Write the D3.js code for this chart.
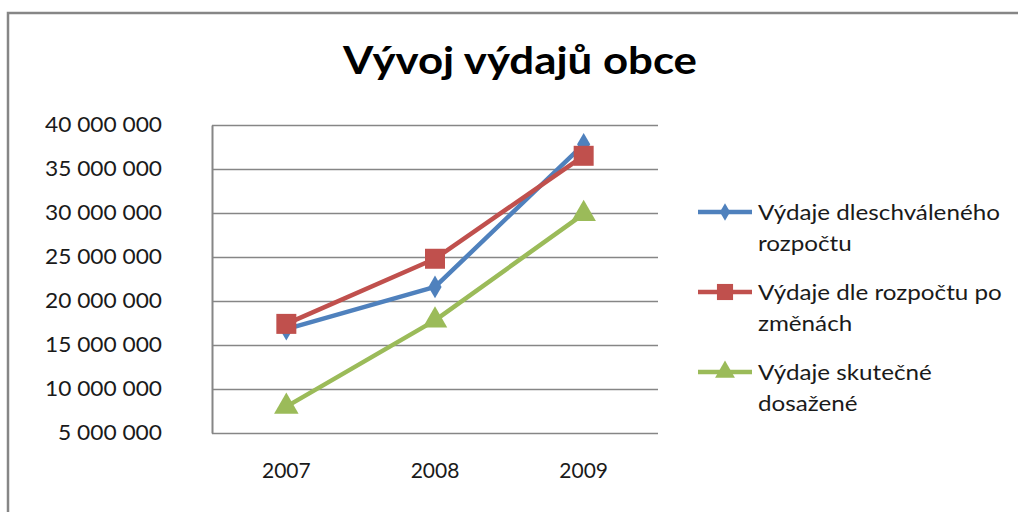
<!DOCTYPE html>
<html>
<head>
<meta charset="utf-8">
<script src="https://cdn.jsdelivr.net/npm/d3@7"></script>
<style>
  html, body { margin: 0; padding: 0; background: #fff; }
  svg { display: block; }
  text { font-family: Lato, "Open Sans", sans-serif; fill: #1a1a1a; }
</style>
</head>
<body>
<svg id="chart" width="1018" height="512"></svg>
<script>
const title = "Vývoj výdajů obce";
const categories = ["2007", "2008", "2009"];
const seriesNames = ["Výdaje dleschváleného rozpočtu", "Výdaje dle rozpočtu po změnách", "Výdaje skutečné dosažené"];
const legendLines = [["Výdaje dleschváleného", "rozpočtu"], ["Výdaje dle rozpočtu po", "změnách"], ["Výdaje skutečné", "dosažené"]];
const schvaleny = [16800000, 21600000, 37800000];
const poZmenach = [17400000, 24800000, 36500000];
const skutecne = [8000000, 17800000, 29900000];
const yTicks = [5000000, 10000000, 15000000, 20000000, 25000000, 30000000, 35000000, 40000000];

const colors = ["#4F81BD", "#C0504D", "#9BBB59"];
const symbols = [d3.symbolDiamond, d3.symbolSquare, d3.symbolTriangle];
const symbolSizes = [150, 400, 260];
const legendSymbolSizes = [90, 260, 170];
const seriesValues = [schvaleny, poZmenach, skutecne];

const svg = d3.select("#chart");

// outer frame (top and left edges visible)
svg.append("path")
  .attr("d", "M8,512 L8,13 L1018,13")
  .attr("fill", "none").attr("stroke", "#868686").attr("stroke-width", 2.5);

// title
svg.append("text")
  .attr("x", 520).attr("y", 74)
  .attr("text-anchor", "middle")
  .attr("font-size", 38).attr("font-weight", "bold")
  .style("fill", "#000")
  .attr("textLength", 354).attr("lengthAdjust", "spacingAndGlyphs")
  .text(title);

const plot = { left: 212, right: 658, top: 125, bottom: 433 };

const x = d3.scaleBand().domain(categories).range([plot.left, plot.right]);
const y = d3.scaleLinear().domain([5000000, 40000000]).range([plot.bottom, plot.top]);

const fmt = v => d3.format(",")(v).replace(/,/g, " ");

// gridlines
svg.append("g")
  .attr("transform", `translate(${plot.left},0)`)
  .call(d3.axisLeft(y).tickValues(yTicks).tickSize(-(plot.right - plot.left)).tickFormat(""))
  .call(g => g.select(".domain").remove())
  .call(g => g.selectAll("line").attr("stroke", "#868686").attr("stroke-width", 1.5));

// y axis labels
const yAxis = svg.append("g")
  .attr("transform", `translate(${plot.left},0)`)
  .call(d3.axisLeft(y).tickValues(yTicks).tickSize(0).tickPadding(50).tickFormat(fmt));
yAxis.select(".domain").attr("stroke", "#868686").attr("stroke-width", 2);
yAxis.selectAll("text").attr("font-size", 21).attr("font-family", "Lato").style("fill", "#1a1a1a")
  .attr("textLength", 117).attr("lengthAdjust", "spacingAndGlyphs");
yAxis.selectAll("text").filter(d => d < 10000000).attr("textLength", 104);

// x axis labels
const xAxis = svg.append("g")
  .attr("transform", `translate(0,${plot.bottom})`)
  .call(d3.axisBottom(x).tickSize(0).tickPadding(30));
xAxis.select(".domain").remove();
xAxis.selectAll("text").attr("font-size", 21).attr("font-family", "Lato").style("fill", "#1a1a1a");

// lines & markers
const line = d3.line().x((d, i) => x(categories[i]) + x.bandwidth() / 2).y(d => y(d));
seriesValues.forEach((vals, s) => {
  svg.append("path")
    .datum(vals)
    .attr("d", line)
    .attr("fill", "none")
    .attr("stroke", colors[s])
    .attr("stroke-width", 4.5)
    .attr("stroke-linejoin", "round");
});
seriesValues.forEach((vals, s) => {
  svg.append("g").selectAll("path")
    .data(vals)
    .join("path")
    .attr("transform", (d, i) => `translate(${x(categories[i]) + x.bandwidth() / 2},${y(d)})`)
    .attr("d", d3.symbol().type(symbols[s]).size(symbolSizes[s]))
    .attr("fill", colors[s]);
});

// legend
const legendY = [212, 292, 372];
const lg = svg.append("g");
seriesNames.forEach((name, s) => {
  const g = lg.append("g").attr("transform", `translate(0,${legendY[s]})`);
  g.append("line").attr("x1", 698).attr("x2", 752).attr("y1", 0).attr("y2", 0)
    .attr("stroke", colors[s]).attr("stroke-width", 4.5);
  g.append("path").attr("transform", "translate(725,0)")
    .attr("d", d3.symbol().type(symbols[s]).size(legendSymbolSizes[s]))
    .attr("fill", colors[s]);
  legendLines[s].forEach((t, k) => {
    const tx = g.append("text").attr("x", 758).attr("y", k * 31).attr("dy", "0.35em")
      .attr("font-size", 22).text(t);
    const w = tx.node().getComputedTextLength();
    tx.attr("textLength", w * 1.1).attr("lengthAdjust", "spacingAndGlyphs");
  });
});
</script>
</body>
</html>
